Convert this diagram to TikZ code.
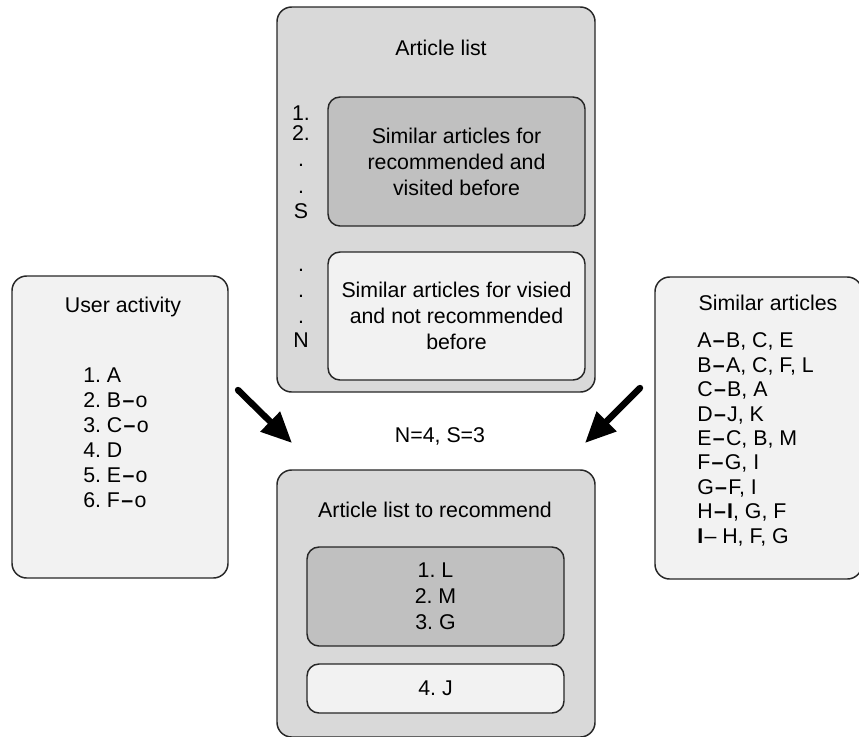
\documentclass[tikz,border=0pt]{standalone}
\usepackage{fontspec}
\setmainfont{Liberation Sans}
\usetikzlibrary{arrows.meta}
\definecolor{outerfill}{HTML}{D9D9D9}
\definecolor{darkfill}{HTML}{C0C0C0}
\definecolor{lightfill}{HTML}{F2F2F2}
\newcommand{\dsh}{\kern1pt\textbf{–}\kern1pt}
\frenchspacing
\begin{document}
\begin{tikzpicture}[x=0.75pt,y=-0.75pt,
  box/.style={draw=black!85, line width=1.1pt, rounded corners=11pt, inner sep=0pt},
  outerbox/.style={box, fill=outerfill},
  darkbox/.style={box, fill=darkfill, rounded corners=9pt},
  lightbox/.style={box, fill=lightfill, rounded corners=9pt},
  sidebox/.style={box, fill=lightfill},
  txt/.style={font=\fontsize{16pt}{19.5pt}\selectfont\frenchspacing, inner sep=0pt, align=center},
  bigarrow/.style={line width=4.8pt, line cap=round, -{Triangle[length=23pt,width=20pt]}}
]
\useasboundingbox (0,0) rectangle (859,736);

% Article list
\node[outerbox, minimum width=238.5pt, minimum height=288.75pt] (artlist) at (436,199.5) {};
\node[txt, anchor=base] (artlisttitle) at (441,55) {Article list};
\node[darkbox, txt, minimum width=192.75pt, minimum height=96.75pt] (simrec) at (456.5,161.5) {Similar articles for\\recommended and\\visited before};
\node[lightbox, txt, minimum width=192.75pt, minimum height=96pt] (simvis) at (456.5,316) {Similar articles for visied\\and not recommended\\before};
\foreach \t/\y [count=\i] in {1./120, 2./140, ./166, ./193, S/218, ./271, ./297, ./323, N/347}
  \node[txt, anchor=base] (mark\i) at (301,\y) {\t};

% User activity
\node[sidebox, minimum width=162pt, minimum height=226.5pt] (user) at (120,427) {};
\node[txt, anchor=base] (usertitle) at (123,312) {User activity};
\node[txt, align=left, anchor=west, font=\fontsize{16pt}{18.75pt}\selectfont\frenchspacing] (userlist) at (83,437.5)
  {1. A\\2. B\dsh o\\3. C\dsh o\\4. D\\5. E\dsh o\\6. F\dsh o};

% Similar articles
\node[sidebox, minimum width=155.25pt, minimum height=226.5pt] (similar) at (758.5,428) {};
\node[txt, anchor=base] (simtitle) at (768,310) {Similar articles};
\node[txt, align=left, anchor=west, font=\fontsize{16pt}{18.3pt}\selectfont\frenchspacing] (simlist) at (697,439.5)
  {A\dsh B, C, E\\B\dsh A, C, F, L\\C\dsh B, A\\D\dsh J, K\\E\dsh C, B, M\\F\dsh G, I\\G\dsh F, I\\H\dsh\textbf{I}, G, F\\\textbf{I}\kern1pt– H, F, G};

% Article list to recommend
\node[outerbox, minimum width=238.5pt, minimum height=200.25pt] (reclist) at (436,603.5) {};
\node[txt, anchor=base] (rectitle) at (435,517) {Article list to recommend};
\node[darkbox, txt, minimum width=192.75pt, minimum height=74.25pt] (recdark) at (435.5,596.5) {1. L\\2. M\\3. G};
\node[lightbox, txt, minimum width=192.75pt, minimum height=36.75pt] (reclight) at (435.5,688.5) {4. J};

\node[txt, anchor=base] (params) at (440,442) {N=4, S=3};

% Arrows
\coordinate (la1) at (238,390);
\coordinate (la2) at (292,443);
\coordinate (ra1) at (640,388);
\coordinate (ra2) at (585,443);
\draw[bigarrow] (la1) -- (la2);
\draw[bigarrow] (ra1) -- (ra2);
\end{tikzpicture}
\end{document}
